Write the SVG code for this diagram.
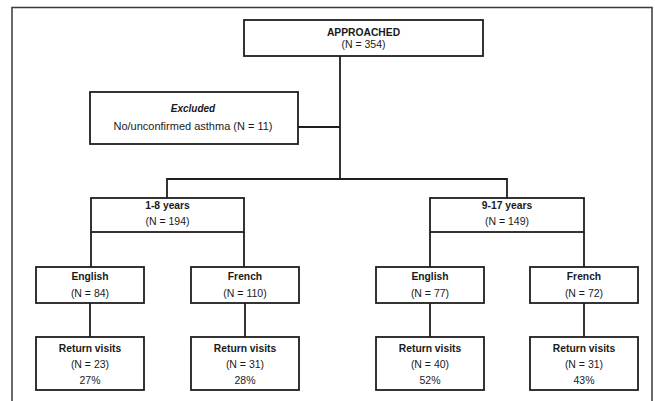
<svg xmlns="http://www.w3.org/2000/svg" width="655" height="401" viewBox="0 0 655 401">
<style>
.bg{fill:#ffffff}
.frame{fill:none;stroke:#3a3a3a;stroke-width:1.5}
.box{fill:#ffffff;stroke:#1e1e1e;stroke-width:1.8}
.conn{fill:none;stroke:#1e1e1e;stroke-width:1.8}
text{font-family:"Liberation Sans",Arial,sans-serif;fill:#1a1a1a;text-anchor:middle}
.b{font-weight:bold;font-size:10.3px}
.r{font-size:10.5px}
.ex{font-weight:bold;font-style:italic;font-size:10px}
.big{font-size:11px}
</style>
<rect class="bg" x="0" y="0" width="655" height="401"/>
<path class="frame" d="M12,401 V7.5 H652 V401"/>
<g id="connectors">
<path class="conn" d="M340,56 V179"/>
<path class="conn" d="M298,127 H340"/>
<path class="conn" d="M167,198 V179 H507 V198"/>
<path class="conn" d="M91,232 V267 M244,232 V267"/>
<path class="conn" d="M430,232 V267 M584,232 V267"/>
<path class="conn" d="M90,303 V337 M245,303 V337 M430,303 V337 M584,303 V337"/>
</g>
<g id="approached">
<rect class="box" x="244" y="20" width="239" height="36"/>
<text class="b" x="363.5" y="36">APPROACHED</text>
<text class="r" x="363.5" y="48">(N = 354)</text>
</g>
<g id="excluded">
<rect class="box" x="90" y="92" width="208" height="52"/>
<text class="ex" x="193" y="112">Excluded</text>
<text class="big" x="193" y="130">No/unconfirmed asthma (N = 11)</text>
</g>
<g id="age-1-8">
<rect class="box" x="91" y="198" width="153" height="34"/>
<text class="b" x="167.5" y="209">1-8 years</text>
<text class="r" x="167.5" y="225">(N = 194)</text>
</g>
<g id="age-9-17">
<rect class="box" x="430" y="198" width="154" height="34"/>
<text class="b" x="507" y="209">9-17 years</text>
<text class="r" x="507" y="225">(N = 149)</text>
</g>
<g id="english-young">
<rect class="box" x="36" y="267" width="108" height="36"/>
<text class="b" x="90" y="280">English</text>
<text class="r" x="90" y="297">(N = 84)</text>
</g>
<g id="french-young">
<rect class="box" x="191" y="267" width="108" height="36"/>
<text class="b" x="245" y="280">French</text>
<text class="r" x="245" y="297">(N = 110)</text>
</g>
<g id="english-old">
<rect class="box" x="376" y="267" width="108" height="36"/>
<text class="b" x="430" y="280">English</text>
<text class="r" x="430" y="297">(N = 77)</text>
</g>
<g id="french-old">
<rect class="box" x="530" y="267" width="108" height="36"/>
<text class="b" x="584" y="280">French</text>
<text class="r" x="584" y="297">(N = 72)</text>
</g>
<g id="return-english-young">
<rect class="box" x="36" y="337" width="108" height="53"/>
<text class="b" x="90" y="352">Return visits</text>
<text class="r" x="90" y="368">(N = 23)</text>
<text class="r" x="90" y="384">27%</text>
</g>
<g id="return-french-young">
<rect class="box" x="191" y="337" width="108" height="53"/>
<text class="b" x="245" y="352">Return visits</text>
<text class="r" x="245" y="368">(N = 31)</text>
<text class="r" x="245" y="384">28%</text>
</g>
<g id="return-english-old">
<rect class="box" x="376" y="337" width="108" height="53"/>
<text class="b" x="430" y="352">Return visits</text>
<text class="r" x="430" y="368">(N = 40)</text>
<text class="r" x="430" y="384">52%</text>
</g>
<g id="return-french-old">
<rect class="box" x="530" y="337" width="108" height="53"/>
<text class="b" x="584" y="352">Return visits</text>
<text class="r" x="584" y="368">(N = 31)</text>
<text class="r" x="584" y="384">43%</text>
</g>
</svg>
